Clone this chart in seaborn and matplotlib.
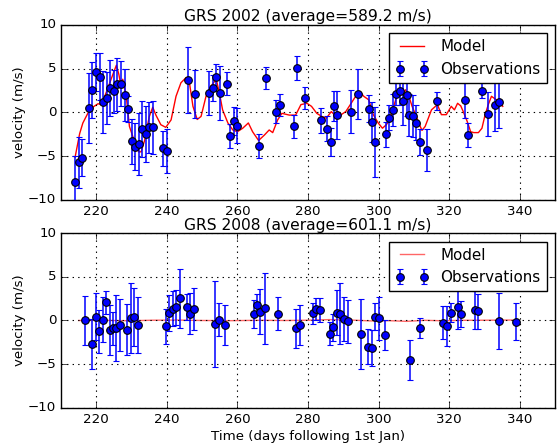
import matplotlib
matplotlib.use('Agg')
import matplotlib.pyplot as plt
import seaborn as sns
import pandas as pd

# GRS 2002 observations (day, velocity, error)
day_2002 = [213.9, 215.0, 216.0, 217.9, 218.9, 220.0, 221.0, 222.0, 223.0, 224.0,
            225.0, 226.0, 227.0, 228.0, 229.0, 230.0, 231.0, 232.0, 233.0, 234.0,
            235.0, 236.0, 239.0, 240.0, 246.0, 248.0, 252.0, 253.0, 254.0, 255.0,
            257.0, 258.0, 259.0, 260.0, 266.0, 268.0, 271.0, 272.0, 276.0, 277.0,
            279.2, 283.6, 285.5, 286.4, 287.3, 288.3, 292.3, 294.2, 297.2, 298.1,
            299.1, 302.0, 303.0, 304.0, 305.0, 306.0, 307.0, 308.0, 308.7, 309.8,
            310.7, 311.7, 313.6, 316.7, 324.5, 325.4, 329.3, 331.0, 333.0, 334.0]
vel_2002 = [-8.0, -5.7, -5.15, 0.5, 2.6, 4.65, 4.1, 1.2, 1.65, 2.8,
            2.4, 3.2, 3.3, 2.0, 0.4, -3.3, -3.9, -3.6, -1.9, -2.5,
            -1.7, -1.7, -4.1, -4.4, 3.7, 2.1, 2.2, 2.8, 4.0, 2.2,
            3.3, -2.7, -1.0, -1.5, -3.85, 3.9, 0.1, 0.85, -1.6, 5.1,
            1.7, -0.9, -1.85, -3.4, 0.7, -0.3, 0.1, 2.1, 0.45, -1.1,
            -3.4, -2.5, -0.6, 0.3, 2.1, 2.45, 1.35, 1.95, -0.3, -0.35,
            -1.2, -3.4, -4.3, 1.3, 1.4, -2.55, 2.5, -0.2, 0.85, 1.2]
err_2002 = [3.0, 2.9, 2.1, 4.0, 3.2, 2.2, 2.7, 3.5, 3.0, 3.2,
            2.5, 3.0, 2.6, 3.0, 1.5, 2.6, 2.7, 3.5, 3.2, 3.2,
            2.9, 3.0, 2.0, 2.5, 3.8, 2.7, 2.5, 1.5, 1.5, 3.1,
            1.3, 1.4, 1.6, 2.0, 1.4, 1.25, 1.3, 1.3, 1.3, 1.35,
            1.25, 1.4, 1.4, 1.6, 1.7, 2.7, 2.5, 2.9, 1.5, 2.3,
            4.0, 1.4, 1.4, 1.8, 1.3, 1.6, 2.8, 2.3, 2.4, 2.4,
            2.0, 1.5, 2.4, 1.0, 2.0, 1.4, 0.9, 2.5, 3.0, 3.0]

# GRS 2002 model
mday_2002 = [214.0, 215.3, 216.2, 217.6, 219.0, 220.5, 221.4, 222.4, 223.3, 224.7,
             225.7, 226.4, 227.0, 227.5, 228.5, 229.4, 230.4, 232.0, 232.7, 233.7,
             235.0, 236.0, 236.9, 238.3, 239.7, 241.2, 242.6, 244.0, 245.5, 246.4,
             247.4, 248.6, 249.7, 251.1, 252.5, 254.0, 254.9, 255.8, 257.3, 258.7,
             260.0, 261.5, 263.1, 264.3, 266.0, 267.6, 269.0, 270.0, 271.4, 272.6,
             274.7, 276.5, 278.0, 279.7, 281.0, 282.5, 283.9, 285.2, 286.6, 287.5,
             288.4, 289.4, 290.7, 292.0, 293.5, 294.7, 295.8, 297.2, 298.5, 299.9,
             301.1, 302.2, 303.1, 304.0, 305.0, 305.9, 306.8, 307.7, 308.6, 309.5,
             310.5, 311.4, 312.3, 313.2, 314.1, 315.0, 316.7, 317.8, 319.2, 320.6,
             321.5, 322.4, 323.3, 324.0, 325.1, 326.1, 327.0, 328.3, 329.3, 330.2,
             331.1, 332.0, 333.2, 334.3, 335.2]
model_2002 = [-5.1, -2.4, -1.2, -0.1, 0.6, 1.0, 0.9, 1.85, 2.8, 4.35,
              5.4, 4.35, 3.0, 3.8, 1.85, -1.6, -2.8, -4.5, -4.5, -3.2,
              -0.5, 0.6, -0.3, -1.4, -1.7, -0.85, 1.85, 3.4, 4.0, 3.4,
              0.7, -0.8, -0.45, 1.85, 3.0, 3.8, 2.2, 0.3, -1.2, -2.0,
              -2.2, -1.8, -1.2, -2.2, -3.2, -2.6, -2.0, -2.3, -0.85, -0.1,
              -0.3, -0.3, 0.9, 1.05, 0.7, -0.1, -0.45, -0.65, 0.1, -0.25,
              0.1, -0.25, 0.1, 0.9, 1.85, 2.4, 1.85, 1.45, -0.25, -1.2,
              -1.8, -1.4, -0.85, 0.3, 1.65, 2.4, 2.0, 2.6, 1.85, 0.7,
              -0.25, -1.2, -2.05, -1.6, -0.65, 0.3, 0.9, -0.25, -0.25, 0.7,
              0.3, 1.05, 0.75, 0.1, -1.0, -2.2, -2.3, -2.3, -1.8, -0.25,
              0.9, 1.85, 1.5, 1.25, 0.7]

# GRS 2008 observations
day_2008 = [216.8, 218.8, 219.8, 220.8, 221.8, 222.8, 223.8, 224.7, 225.7, 226.8,
            228.8, 229.7, 230.7, 231.8, 239.8, 240.7, 241.8, 242.7, 243.8, 245.7,
            246.7, 247.7, 253.7, 254.7, 256.6, 264.6, 265.6, 266.5, 267.7, 271.6,
            276.6, 277.6, 281.4, 282.4, 283.5, 286.3, 287.2, 288.2, 289.2, 290.2,
            291.2, 295.0, 297.1, 298.0, 299.0, 300.0, 301.9, 308.8, 311.8, 318.4,
            319.5, 320.4, 322.4, 323.3, 327.2, 328.2, 334.0, 338.9]
vel_2008 = [0.0, -2.7, 0.45, -1.25, 0.1, 2.1, -1.1, -0.9, -0.9, -0.5,
            -1.05, 0.3, 0.4, -0.55, -0.65, 0.85, 1.35, 1.5, 2.55, 1.5,
            0.8, 1.35, -0.4, 0.1, -0.55, 0.7, 1.8, 1.0, 1.4, 0.8,
            -0.9, -0.55, 0.85, 1.3, 1.2, -1.5, -0.8, 0.9, 0.75, 0.15,
            -0.1, -1.55, -3.0, -3.15, 0.45, 0.25, -1.65, -4.5, -0.9, -0.25,
            -0.6, 0.9, 1.5, 0.7, 1.2, 1.05, -0.05, -0.15]
err_2008 = [2.8, 2.9, 2.7, 2.5, 2.6, 1.3, 2.9, 1.9, 3.8, 3.0,
            2.9, 4.0, 3.3, 3.2, 2.0, 2.1, 2.0, 2.0, 3.4, 1.5,
            2.4, 2.4, 4.9, 1.9, 2.3, 1.6, 1.2, 2.6, 4.1, 1.9,
            2.2, 2.3, 1.2, 1.3, 1.4, 1.3, 1.6, 2.6, 3.5, 2.5,
            2.5, 4.0, 2.0, 2.1, 1.5, 2.5, 1.75, 2.3, 1.15, 1.9,
            2.3, 1.1, 2.5, 1.5, 2.2, 2.0, 3.2, 2.1]

# GRS 2008 model (nearly flat)
mday_2008 = [215, 222, 229, 236, 243, 250, 258, 266, 274, 280,
             286, 292, 298, 303, 308, 313, 318, 324, 330, 338]
model_2008 = [0.0, 0.02, -0.03, 0.03, 0.05, 0.0, -0.02, 0.02, 0.0, 0.03,
              0.1, 0.05, -0.05, -0.02, -0.1, 0.02, -0.03, 0.02, 0.03, 0.05]

titles = ['GRS 2002 (average=589.2 m/s)', 'GRS 2008 (average=601.1 m/s)']

plt.style.use('classic')
plt.rcParams['font.family'] = 'DejaVu Sans'

fig = plt.figure(figsize=(5.58, 4.45), dpi=100, facecolor='white')
ax1 = fig.add_axes([0.1093, 0.5506, 0.8853, 0.3933])
ax2 = fig.add_axes([0.1093, 0.0838, 0.8853, 0.3920])

panels = [
    (ax1, day_2002, vel_2002, err_2002, mday_2002, model_2002, 1.0),
    (ax2, day_2008, vel_2008, err_2008, mday_2008, model_2008, 0.6),
]

for i, (ax, d, v, e, md, mv, a) in enumerate(panels):
    mdf = pd.DataFrame({'day': md, 'model': mv})
    sns.lineplot(data=mdf, x='day', y='model', color='red', lw=1.0,
                 alpha=a, label='Model', ax=ax, sort=False)
    ax.errorbar(d, v, yerr=e, fmt='o', color='blue', mfc='blue', mec='k',
                mew=0.8, ms=5.5, ecolor='blue', elinewidth=1.1, capsize=2.5,
                capthick=1.1, label='Observations', zorder=3)
    ax.set_xlim(210, 350)
    ax.set_ylim(-10, 10)
    ax.set_yticks([-10, -5, 0, 5, 10])
    ax.set_xticks([220, 240, 260, 280, 300, 320, 340])
    ax.grid(True, color='k', linestyle=':', linewidth=0.8)
    ax.tick_params(direction='in', top=True, right=True, labelsize=9.6,
                   length=4, pad=3.5)
    ax.set_title(titles[i], fontsize=11.2, pad=2.5)
    ax.set_ylabel('velocity (m/s)', fontsize=9.6, labelpad=1)
    ax.set_xlabel('')
    ax.legend(loc='upper right', numpoints=2, fontsize=10.9, fancybox=False,
              framealpha=1, edgecolor='k', borderaxespad=0.55, handlelength=2.2)

ax2.set_xlabel('Time (days following 1st Jan)', fontsize=9.6, labelpad=3)

fig.savefig('out.png', dpi=100, facecolor='white')
